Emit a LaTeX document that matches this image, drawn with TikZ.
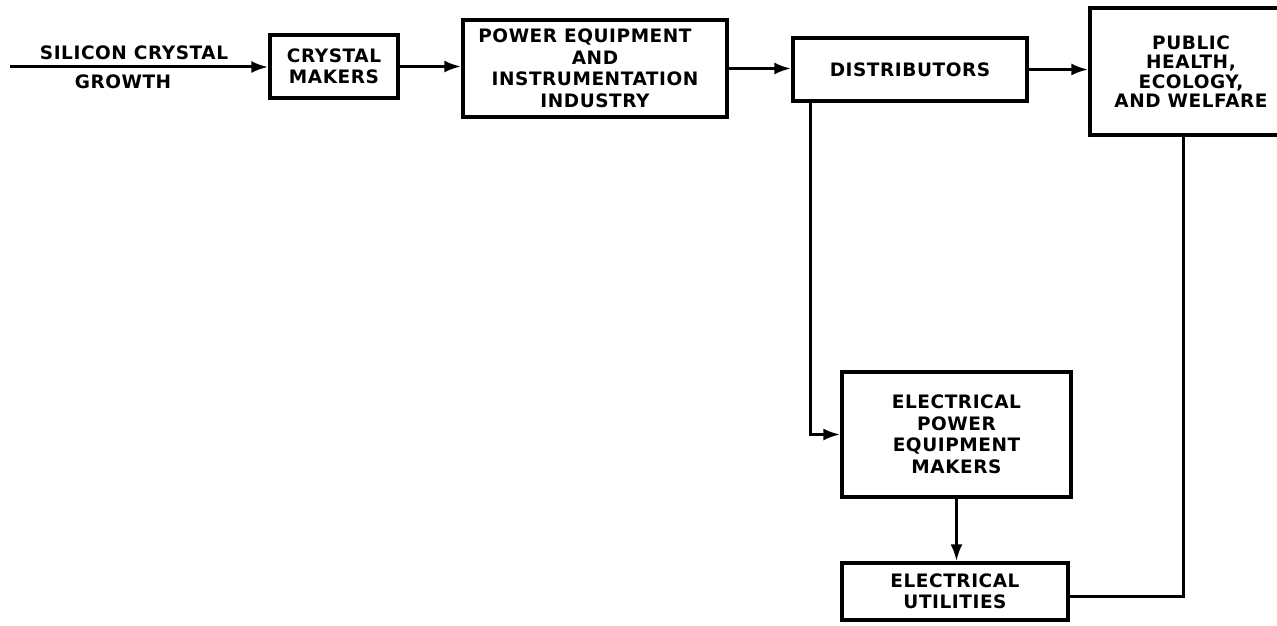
\documentclass[tikz,border=0pt]{standalone}
\usepackage{fontspec}
\setmainfont{DejaVu Sans}[LetterSpace=3]
\usetikzlibrary{arrows.meta,calc}
\begin{document}
\begin{tikzpicture}[x=1pt,y=-1pt,
  txt/.style={font=\fontsize{18.5}{21.5}\selectfont\bfseries, align=center, inner sep=0pt},
  box/.style={txt, draw, line width=3.4pt},
  conn/.style={line width=3pt},
  arr/.style={conn, -{Latex[length=17pt,width=12pt]}}]
\useasboundingbox (0,0) rectangle (1277,626);
\clip (0,0) rectangle (1277,626);
% boxes
\node[box, minimum width=128pt, minimum height=63pt] (cm) at (334,66.5) {CRYSTAL\\MAKERS};
\node[box, minimum width=264pt, minimum height=97pt] (pw) at (595,68.5) {\hspace*{-20pt}POWER EQUIPMENT\\AND\\INSTRUMENTATION\\INDUSTRY};
\node[box, minimum width=234pt, minimum height=63pt] (ds) at (910,69.5) {DISTRIBUTORS};
\node[box, minimum width=190pt, minimum height=127pt, font=\fontsize{18.5}{19.5}\selectfont\bfseries] (pb) at (1185,71.5) {\hspace*{12pt}PUBLIC\\\hspace*{12pt}HEALTH,\\\hspace*{12pt}ECOLOGY,\\\hspace*{12pt}AND WELFARE};
\node[box, minimum width=229pt, minimum height=125pt] (ep) at (956.5,434.5) {ELECTRICAL\\POWER\\EQUIPMENT\\MAKERS};
\node[box, minimum width=226pt, minimum height=57pt] (ut) at (955,591.5) {ELECTRICAL\\UTILITIES};
% input labels
\node[txt] (sil1) at (134,53) {SILICON CRYSTAL};
\node[txt] (sil2) at (123,82) {GROWTH};
\coordinate (in) at (10,67);
% connectors
\draw[arr] (in) -- (in -| cm.west);
\draw[arr] (cm.east) -- (cm.east -| pw.west);
\draw[arr] (pw.east) -- (pw.east -| ds.west);
\draw[arr] (ds.east) -- (ds.east -| pb.west);
\draw[arr] ($(ds.south west)+(19,0)$) |- (ep.west);
\draw[arr] (ep.south) -- (ep.south |- ut.north);
\draw[conn] ($(ut.east)+(0,5)$) -| ($(pb.south)+(-2,0)$);
\end{tikzpicture}
\end{document}
